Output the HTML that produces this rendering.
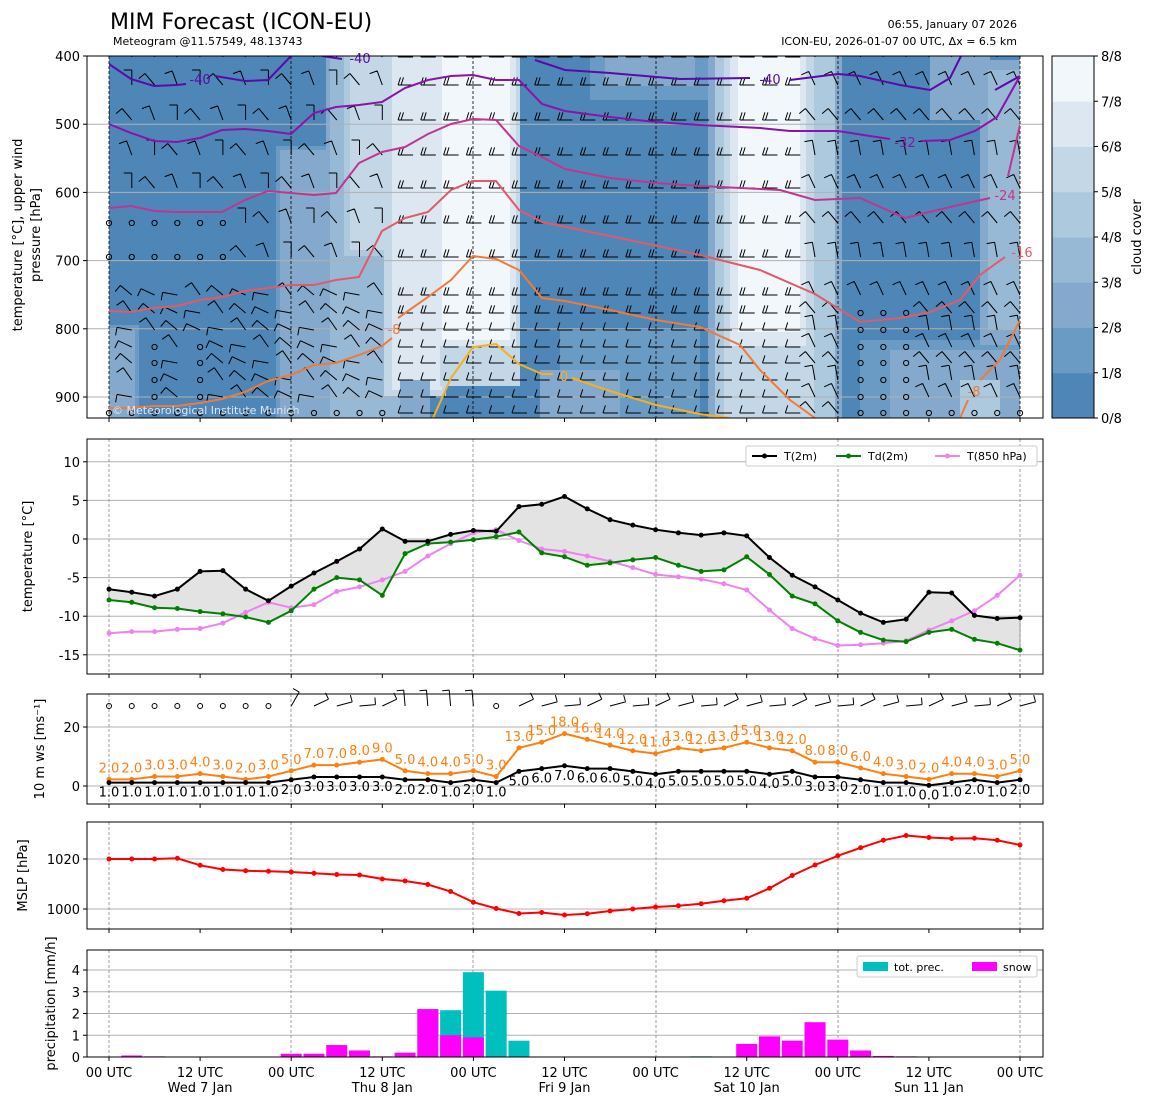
<!DOCTYPE html>
<html><head><meta charset="utf-8">
<style>
html,body{margin:0;padding:0;background:#fff;}
svg{display:block;font-family:"DejaVu Sans","Liberation Sans",sans-serif;}
</style></head>
<body>
<svg id="s" width="1155" height="1105" viewBox="0 0 1155 1105" xmlns="http://www.w3.org/2000/svg">
<defs>
<clipPath id="cp1"><rect x="109" y="56" width="911" height="362"/></clipPath>
</defs>
<text x="110" y="29" font-size="22">MIM Forecast (ICON-EU)</text>
<text x="113" y="45" font-size="11">Meteogram @11.57549, 48.13743</text>
<text x="1017" y="28" font-size="11" text-anchor="end">06:55, January 07 2026</text>
<text x="1017" y="45" font-size="11" text-anchor="end">ICON-EU, 2026-01-07 00 UTC, Δx = 6.5 km</text>
<rect x="109" y="56" width="911" height="362" fill="#4f86b8"/>
<rect x="109" y="325" width="30" height="93" fill="#6a9bc5"/>
<rect x="109" y="330" width="26" height="88" fill="#84a9cc"/>
<rect x="276" y="146" width="58" height="272" fill="#6a9bc5"/>
<rect x="280" y="150" width="50" height="268" fill="#84a9cc"/>
<rect x="326" y="56" width="78" height="362" fill="#84a9cc"/>
<rect x="330" y="56" width="70" height="362" fill="#98b9d6"/>
<rect x="344" y="56" width="56" height="200" fill="#adc9de"/>
<rect x="350" y="56" width="45" height="194" fill="#c4d7e7"/>
<rect x="384" y="56" width="62" height="340" fill="#c4d7e7"/>
<rect x="392" y="56" width="50" height="334" fill="#dce7f1"/>
<rect x="400" y="380" width="30" height="38" fill="#84a9cc"/>
<rect x="440" y="56" width="80" height="330" fill="#c4d7e7"/>
<rect x="436" y="56" width="80" height="290" fill="#dce7f1"/>
<rect x="442" y="56" width="68" height="284" fill="#f2f7fb"/>
<rect x="590" y="56" width="120" height="44" fill="#6a9bc5"/>
<rect x="605" y="56" width="90" height="30" fill="#84a9cc"/>
<rect x="560" y="330" width="140" height="88" fill="#6a9bc5"/>
<rect x="540" y="370" width="80" height="48" fill="#84a9cc"/>
<rect x="708" y="56" width="134" height="362" fill="#84a9cc"/>
<rect x="715" y="56" width="120" height="362" fill="#adc9de"/>
<rect x="724" y="56" width="90" height="362" fill="#c4d7e7"/>
<rect x="730" y="56" width="76" height="290" fill="#dce7f1"/>
<rect x="738" y="56" width="62" height="276" fill="#f2f7fb"/>
<rect x="860" y="340" width="160" height="78" fill="#6a9bc5"/>
<rect x="890" y="350" width="130" height="68" fill="#84a9cc"/>
<rect x="960" y="380" width="40" height="38" fill="#adc9de"/>
<rect x="930" y="56" width="60" height="64" fill="#84a9cc"/>
<rect x="980" y="60" width="40" height="285" fill="#84a9cc"/>
<rect x="988" y="70" width="32" height="260" fill="#98b9d6"/>
<g id="g"></g>
</svg>
<script>
const NS="http://www.w3.org/2000/svg";const G=document.getElementById('g');
function el(t,a,txt){const e=document.createElementNS(NS,t);for(const k in a)e.setAttribute(k,a[k]);if(txt!==undefined&&txt!==null)e.textContent=txt;G.appendChild(e);return e;}
const X=i=>109+i*22.775;
const L=87,R=1043;
const P=p=>56+(p-400)*0.682;
const cols=['#4f86b8','#6a9bc5','#84a9cc','#98b9d6','#adc9de','#c4d7e7','#dce7f1','#f2f7fb'];
[500,600,700,800,900].forEach(p=>el('line',{x1:L,x2:R,y1:P(p),y2:P(p),stroke:'#b0b0b0','stroke-width':1}));
[109,291,473,656,838,1020].forEach(x=>el('line',{x1:x,x2:x,y1:56,y2:418,stroke:'#000','stroke-width':0.8,'stroke-dasharray':'3,2'}));
const rows=[57,85,120,155,188,223,257,295,313,330,347,363,380,397,413];
let bs='';
for(let i=0;i<41;i++){for(let r=0;r<rows.length;r++){const x=X(i),y=rows[r];
 let calm=(i<=5&&(r==5||r==6))||(i<=5&&r>=10&&r<=13&&i%2==0&&i>1)||(r==14&&(i<=12||(i>=34&&i<=40)))||(i>=33&&i<=35&&r>=8&&r<=14);
 if(calm){el('circle',{cx:x,cy:y,r:2.6,fill:'none',stroke:'#000','stroke-width':1});continue;}
 let a,n;
 if(i>=13&&i<=30){a=180;n=(r<9)?2:1;}else if(i>=31){a=-100-(r%3)*15;n=1;}else{a=(r<7)?-130+((i+r)%3)*20:-170+((i*7+r)%4)*15;n=1;}
 const rad=a*Math.PI/180,len=15;const sx=(a==180)?x+8:x;const ex=sx+len*Math.cos(rad),ey=y+len*Math.sin(rad);
 bs+=`M${sx.toFixed(1)},${y}L${ex.toFixed(1)},${ey.toFixed(1)}`;
 for(let k=0;k<n;k++){const bx=ex-k*3*Math.cos(rad),by=ey-k*3*Math.sin(rad);const pr=(a==180)?-Math.PI/2+0.3:rad-Math.PI/2;bs+=`M${bx.toFixed(1)},${by.toFixed(1)}l${(8*Math.cos(pr)).toFixed(1)},${(8*Math.sin(pr)).toFixed(1)}`;}
}}
el('path',{d:bs,stroke:'#000','stroke-width':1,fill:'none','clip-path':'url(#cp1)'});
const cont=[
['#5a0aa8',[[109,64],[131,79],[154,86],[177,85],[186,84]]],
['#5a0aa8',[[215,76],[245,81],[268,80],[291,56]]],
['#5a0aa8',[[322,56],[342,59]]],
['#5a0aa8',[[535,60],[565,70],[610,73],[680,79],[750,78]]],
['#5a0aa8',[[790,80],[838,74],[860,76],[900,85],[930,90],[950,78],[961,56]]],
['#5a0aa8',[[995,90],[1020,76]]],
['#8a14a8',[[109,124],[131,133],[154,141],[177,142],[200,138],[222,130],[245,129],[268,131],[291,134],[314,113],[336,107],[359,105],[382,102],[405,88],[428,80],[451,76],[473,75],[496,80],[519,80],[542,104],[565,111],[587,114],[610,117],[656,122],[700,125],[760,128],[790,131],[838,131],[870,136],[890,139]]],
['#8a14a8',[[922,141],[950,140],[975,131],[997,117],[1020,76]]],
['#c0358f',[[109,208],[131,206],[154,211],[177,212],[222,212],[245,200],[268,191],[291,193],[314,195],[336,193],[359,163],[382,152],[405,147],[428,134],[451,124],[473,119],[496,120],[519,146],[542,157],[565,169],[610,178],[656,183],[700,186],[780,190],[815,200],[860,198],[905,218],[950,207],[990,198]]],
['#c0358f',[[1008,176],[1020,125]]],
['#e05a6b',[[109,311],[131,312],[154,308],[177,306],[200,300],[222,297],[245,291],[268,288],[291,285],[314,285],[336,280],[359,277],[382,231],[405,218],[428,212],[451,190],[473,181],[496,181],[519,210],[542,222],[610,236],[700,255],[760,270],[815,294],[860,322],[900,318],[930,312],[960,300],[980,275],[1005,257]]],
['#f07a3c',[[109,408],[131,408],[154,406],[177,406],[200,403],[222,399],[245,392],[268,381],[291,375],[314,365],[336,363],[359,355],[382,346],[392,338]]],
['#f07a3c',[[398,318],[428,297],[451,280],[473,256],[496,259],[519,270],[542,298],[565,301],[610,310],[656,320],[700,327],[740,345],[760,370],[790,400],[815,418]]],
['#f07a3c',[[960,418],[968,400]],[[980,380],[1000,360],[1020,320]]],
['#f5b020',[[433,418],[451,378],[473,347],[496,344],[519,364],[542,374],[553,374]]],
['#f5b020',[[572,378],[610,391],[656,405],[700,414],[730,418]]]];
cont.forEach(c=>{for(let j=1;j<c.length;j++)el('polyline',{points:c[j].map(p=>p.join(',')).join(' '),fill:'none',stroke:c[0],'stroke-width':2,'clip-path':'url(#cp1)'});});
[[200,84,'-40','#5a0aa8'],[360,63,'-40','#5a0aa8'],[770,84,'-40','#5a0aa8'],[905,147,'-32','#8a14a8'],[1005,200,'-24','#c0358f'],[1022,257,'-16','#e05a6b'],[394,334,'-8','#f07a3c'],[974,396,'-8','#f07a3c'],[564,381,'0','#f5b020']].forEach(t=>el('text',{x:t[0],y:t[1],'font-size':13,fill:t[3],'text-anchor':'middle'},t[2]));
el('text',{x:112,y:414,'font-size':11,fill:'#dde8f2'},'© Meteorological Institute Munich');
el('rect',{x:L,y:56,width:R-L,height:362,fill:'none',stroke:'#000','stroke-width':1});
[400,500,600,700,800,900].forEach(p=>{el('line',{x1:L-4,x2:L,y1:P(p),y2:P(p),stroke:'#000'});el('text',{x:L-7,y:P(p)+5,'font-size':13,'text-anchor':'end'},p);});
el('text',{transform:'translate(22,235) rotate(-90)','font-size':13,'text-anchor':'middle'},'temperature [°C], upper wind');
el('text',{transform:'translate(40,235) rotate(-90)','font-size':13,'text-anchor':'middle'},'pressure [hPa]');
for(let k=0;k<8;k++){const h=362/8;el('rect',{x:1052,y:418-(k+1)*h,width:42,height:h+0.5,fill:cols[k]});}
el('rect',{x:1052,y:56,width:42,height:362,fill:'none',stroke:'#000'});
for(let k=0;k<=8;k++){const y=418-k*362/8;el('line',{x1:1094,x2:1098,y1:y,y2:y,stroke:'#000'});el('text',{x:1101,y:y+5,'font-size':13},k+'/8');}
el('text',{transform:'translate(1141,237) rotate(-90)','font-size':13,'text-anchor':'middle'},'cloud cover');
function panel(y1,y2,ticks,Y,label,lx){
 ticks.forEach(t=>{el('line',{x1:L,x2:R,y1:Y(t),y2:Y(t),stroke:'#b0b0b0'});el('line',{x1:L-4,x2:L,y1:Y(t),y2:Y(t),stroke:'#000'});el('text',{x:L-7,y:Y(t)+5,'font-size':13,'text-anchor':'end'},t);});
 [109,291,473,656,838,1020].forEach(x=>el('line',{x1:x,x2:x,y1:y1,y2:y2,stroke:'#888','stroke-width':0.8,'stroke-dasharray':'3,2'}));
 for(let i=0;i<=40;i+=4)el('line',{x1:X(i),x2:X(i),y1:y2,y2:y2+4,stroke:'#000'});
 el('text',{transform:`translate(${lx},${(y1+y2)/2}) rotate(-90)`,'font-size':13,'text-anchor':'middle'},label);
}
function frame(y1,y2){el('rect',{x:L,y:y1,width:R-L,height:y2-y1,fill:'none',stroke:'#000'});}
function line(vals,Y,col,r){el('polyline',{points:vals.map((v,i)=>X(i).toFixed(1)+','+Y(v).toFixed(1)).join(' '),fill:'none',stroke:col,'stroke-width':2});vals.forEach((v,i)=>el('circle',{cx:X(i),cy:Y(v),r:r||2.5,fill:col}));}
const T=v=>539-v*7.72;
const t2=[-6.5,-6.9,-7.4,-6.5,-4.2,-4.1,-6.5,-8,-6.1,-4.4,-2.9,-1.3,1.3,-0.3,-0.3,0.6,1.1,1.0,4.2,4.5,5.5,3.9,2.5,1.8,1.2,0.8,0.5,0.8,0.4,-2.4,-4.7,-6.2,-7.9,-9.6,-10.8,-10.4,-6.9,-7.0,-9.9,-10.3,-10.2];
const td=[-7.9,-8.2,-8.9,-9.0,-9.4,-9.7,-10.1,-10.8,-9.3,-6.5,-5.0,-5.3,-7.3,-1.9,-0.6,-0.4,-0.1,0.3,0.9,-1.8,-2.3,-3.4,-3.1,-2.7,-2.4,-3.4,-4.2,-4.0,-2.3,-4.6,-7.4,-8.4,-10.6,-12.1,-13.1,-13.3,-12.1,-11.7,-13.0,-13.5,-14.4];
const t8=[-12.2,-12,-12,-11.7,-11.6,-10.9,-9.5,-8.2,-8.9,-8.5,-6.8,-6.2,-5.3,-4.2,-2.2,-0.6,0.8,1.2,-0.2,-1.3,-1.6,-2.2,-2.9,-3.7,-4.6,-4.9,-5.2,-5.8,-6.6,-9.2,-11.6,-12.9,-13.8,-13.7,-13.5,-13.2,-11.8,-10.6,-9.3,-7.3,-4.7];
panel(439,674,[10,5,0,-5,-10,-15],T,'temperature [°C]',32);
let fp=t2.map((v,i)=>X(i)+','+T(v)).concat(td.map((v,i)=>[X(i),T(v)]).reverse().map(p=>p.join(','))).join(' ');
el('polygon',{points:fp,fill:'#e3e3e3',stroke:'#555','stroke-width':0.5});
line(t8,T,'#ee82ee');line(td,T,'#008000');line(t2,T,'#000');
frame(439,674);
el('rect',{x:746,y:446,width:291,height:20,fill:'#fff',stroke:'#ccc',rx:2});
[[752,'#000','T(2m)'],[836,'#008000','Td(2m)'],[935,'#ee82ee','T(850 hPa)']].forEach(l=>{el('line',{x1:l[0],x2:l[0]+25,y1:456,y2:456,stroke:l[1],'stroke-width':2});el('circle',{cx:l[0]+12.5,cy:456,r:2.5,fill:l[1]});el('text',{x:l[0]+32,y:460,'font-size':11},l[2]);});
const W=v=>786-v*2.95;
const gu=[2,2,3,3,4,3,2,3,5,7,7,8,9,5,4,4,5,3,13,15,18,16,14,12,11,13,12,13,15,13,12,8,8,6,4,3,2,4,4,3,5];
const ws=[1,1,1,1,1,1,1,1,2,3,3,3,3,2,2,1,2,1,5,6,7,6,6,5,4,5,5,5,5,4,5,3,3,2,1,1,0,1,2,1,2];
panel(694,804,[0,20],W,'10 m ws [ms⁻¹]',44);
const gp=gu.map(v=>v*0.97+0.3),wp=ws.map(v=>v*0.95+0.2);
line(gp,W,'#ff7f0e');line(wp,W,'#000');
gu.forEach((v,i)=>el('text',{x:X(i),y:W(gp[i])-7,'font-size':13,fill:'#ff7f0e','text-anchor':'middle'},v.toFixed(1)));
ws.forEach((v,i)=>el('text',{x:X(i),y:W(wp[i])+14,'font-size':13,fill:'#000','text-anchor':'middle'},v.toFixed(1)));
let wb='';
for(let i=0;i<41;i++){const x=X(i),y=706;
 if(i<8||i==17){el('circle',{cx:x,cy:y,r:2.5,fill:'none',stroke:'#000'});continue;}
 let a=(i>=13&&i<=16)?-95:(i==8?-60:-25+((i%3)*10));const rad=a*Math.PI/180;const ex=x+16*Math.cos(rad),ey=y+16*Math.sin(rad);
 wb+=`M${x.toFixed(1)},${y}L${ex.toFixed(1)},${ey.toFixed(1)}`;const pr=rad-Math.PI/2;wb+=`M${ex.toFixed(1)},${ey.toFixed(1)}l${(7*Math.cos(pr)).toFixed(1)},${(7*Math.sin(pr)).toFixed(1)}`;}
el('path',{d:wb,stroke:'#000',fill:'none','stroke-width':1});
frame(694,804);
const M=v=>859-(v-1020)*2.5;
const ms=[1020,1020,1020,1020.3,1017.5,1015.8,1015.3,1015.1,1014.8,1014.3,1013.8,1013.6,1012,1011.2,1009.8,1007,1002.7,1000.2,998.2,998.6,997.6,998.1,999.2,1000,1000.8,1001.3,1002.1,1003.3,1004.3,1008.3,1013.4,1017.6,1021.3,1024.5,1027.5,1029.4,1028.6,1028.2,1028.3,1027.5,1025.6];
panel(822,929,[1000,1020],M,'MSLP [hPa]',27);
line(ms,M,'#ff0000');
frame(822,929);
const Q=v=>1057-v*21.75;
panel(950,1057,[0,1,2,3,4],Q,'precipitation [mm/h]',55);
const tp={14:2.2,15:2.15,16:3.9,17:3.05,18:0.75,26:0.03};
const sn={1:0.07,2:0.03,8:0.15,9:0.15,10:0.55,11:0.3,12:0.03,13:0.2,14:2.2,15:1.0,16:0.9,28:0.6,29:0.95,30:0.75,31:1.6,32:0.8,33:0.3,34:0.05,35:0.03};
for(const i in tp)el('rect',{x:X(+i)-10.5,y:Q(tp[i]),width:21,height:tp[i]*21.75,fill:'#00bfbf'});
for(const i in sn)el('rect',{x:X(+i)-10.5,y:Q(sn[i]),width:21,height:sn[i]*21.75,fill:'#ff00ff'});
frame(950,1057);
el('rect',{x:857,y:956,width:180,height:21,fill:'#fff',stroke:'#ccc',rx:2});
el('rect',{x:863,y:962,width:25,height:9,fill:'#00bfbf'});el('text',{x:894,y:971,'font-size':11},'tot. prec.');
el('rect',{x:972,y:962,width:25,height:9,fill:'#ff00ff'});el('text',{x:1003,y:971,'font-size':11},'snow');
const days=['Wed 7 Jan','Thu 8 Jan','Fri 9 Jan','Sat 10 Jan','Sun 11 Jan'];
for(let k=0;k<=10;k++){const x=X(k*4);el('text',{x:x,y:1077,'font-size':13,'text-anchor':'middle'},k%2?'12 UTC':'00 UTC');if(k%2)el('text',{x:x,y:1092,'font-size':13,'text-anchor':'middle'},days[(k-1)/2]);}
for(let i=0;i<=40;i+=4)el('line',{x1:X(i),x2:X(i),y1:418,y2:422,stroke:'#000'});
</script>
</body></html>
